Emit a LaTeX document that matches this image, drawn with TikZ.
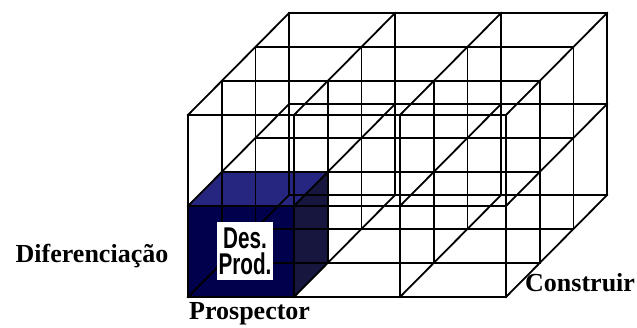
\documentclass[tikz,border=0pt]{standalone}
\usepackage{fontspec}
\setmainfont{Liberation Serif}
\newfontfamily\dpfont{Liberation Sans}
\usepackage{graphicx}
\definecolor{cubefront}{HTML}{00004D}
\definecolor{cubetop}{HTML}{262680}
\definecolor{cubeside}{HTML}{16163F}
\tikzset{
  grid line/.style={black, line width=1.8pt, line cap=rect},
  lbl/.style={inner sep=0pt, font=\fontsize{26}{30}\selectfont\bfseries},
  dpbox/.style={fill=white, draw=none, minimum width=56pt, minimum height=58pt,
    inner sep=0pt, align=center, font=\dpfont\fontsize{30}{25.7}\selectfont\bfseries}
}
\begin{document}
\begin{tikzpicture}[x=1pt, y=-1pt]
\useasboundingbox (0,0) rectangle (637,327);
\begin{scope}[shift={(188,297)}, x={(106pt,0pt)}, y={(0pt,91pt)}, z={(33.7pt,34pt)}]
  % blue cube
  \fill[cubefront] (0,0,0) -- (1,0,0) -- (1,1,0) -- (0,1,0) -- cycle;
  \fill[cubetop] (0,1,0) -- (1,1,0) -- (1,1,1) -- (0,1,1) -- cycle;
  \fill[cubeside] (1,0,0) -- (1,0,1) -- (1,1,1) -- (1,1,0) -- cycle;
  % lattice
  \foreach \j in {0,1,2} \foreach \k in {0,1,2,3}
    \draw[grid line] (0,\j,\k) -- (3,\j,\k);
  \foreach \i in {0,1,2,3} \foreach \k in {0,1,2,3}
    \draw[grid line] (\i,0,\k) -- (\i,2,\k);
  \foreach \i in {0,1,2,3} \foreach \j in {0,1,2}
    \draw[grid line] (\i,\j,0) -- (\i,\j,3);
\end{scope}
\node[dpbox] (dp) at (245,251) {\scalebox{0.69}[1]{Des.}\\\scalebox{0.69}[1]{Prod.}};
\node[lbl, anchor=base] (dif) at (92,262) {Diferenciação};
\node[lbl, anchor=base west] (pro) at (189,319) {Prospector};
\node[lbl, anchor=base west] (con) at (525,291) {Construir};
\end{tikzpicture}
\end{document}
